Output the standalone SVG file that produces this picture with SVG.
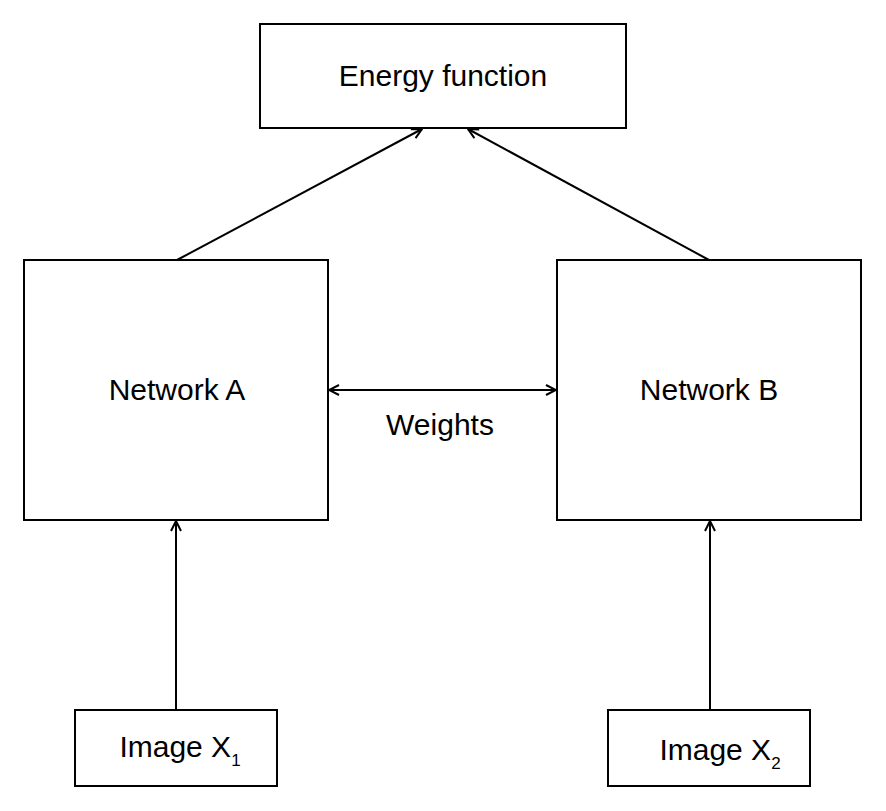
<svg xmlns="http://www.w3.org/2000/svg" width="886" height="811" viewBox="0 0 886 811">
<style>
.box{fill:#fff;stroke:#000;stroke-width:2}
.lbl{font-family:"Liberation Sans",Arial,sans-serif;font-size:30px;fill:#000;text-anchor:middle}
.sub{font-size:17px}
.conn{stroke:#000;stroke-width:2;fill:none}
</style>
<defs>
<marker id="ah" viewBox="0 0 12 12" refX="11" refY="6" markerWidth="12" markerHeight="12" markerUnits="userSpaceOnUse" orient="auto-start-reverse">
<path d="M1,1 L11,6 L1,11" fill="none" stroke="#000" stroke-width="2"/>
</marker>
</defs>
<rect width="886" height="811" fill="#fff"/>
<g id="connectors">
<line class="conn" x1="177" y1="260" x2="422" y2="129" marker-end="url(#ah)"/>
<line class="conn" x1="709" y1="260" x2="468" y2="129" marker-end="url(#ah)"/>
<line class="conn" x1="329" y1="390" x2="556" y2="390" marker-start="url(#ah)" marker-end="url(#ah)"/>
<line class="conn" x1="176" y1="709" x2="176" y2="521" marker-end="url(#ah)"/>
<line class="conn" x1="710" y1="709" x2="710" y2="521" marker-end="url(#ah)"/>
</g>
<g id="energy">
<rect class="box" x="260" y="24" width="366" height="104"/>
<text class="lbl" x="443" y="86">Energy function</text>
</g>
<g id="networkA">
<rect class="box" x="24" y="260" width="304" height="260"/>
<text class="lbl" x="177" y="400">Network A</text>
</g>
<g id="networkB">
<rect class="box" x="557" y="260" width="304" height="260"/>
<text class="lbl" x="709" y="400">Network B</text>
</g>
<g id="weights">
<text class="lbl" x="440" y="435">Weights</text>
</g>
<g id="imageX1">
<rect class="box" x="75" y="710" width="202" height="76"/>
<text class="lbl" x="180" y="757">Image X<tspan class="sub" dy="9">1</tspan></text>
</g>
<g id="imageX2">
<rect class="box" x="608" y="710" width="202" height="76"/>
<text class="lbl" x="720" y="760">Image X<tspan class="sub" dy="9">2</tspan></text>
</g>
</svg>
